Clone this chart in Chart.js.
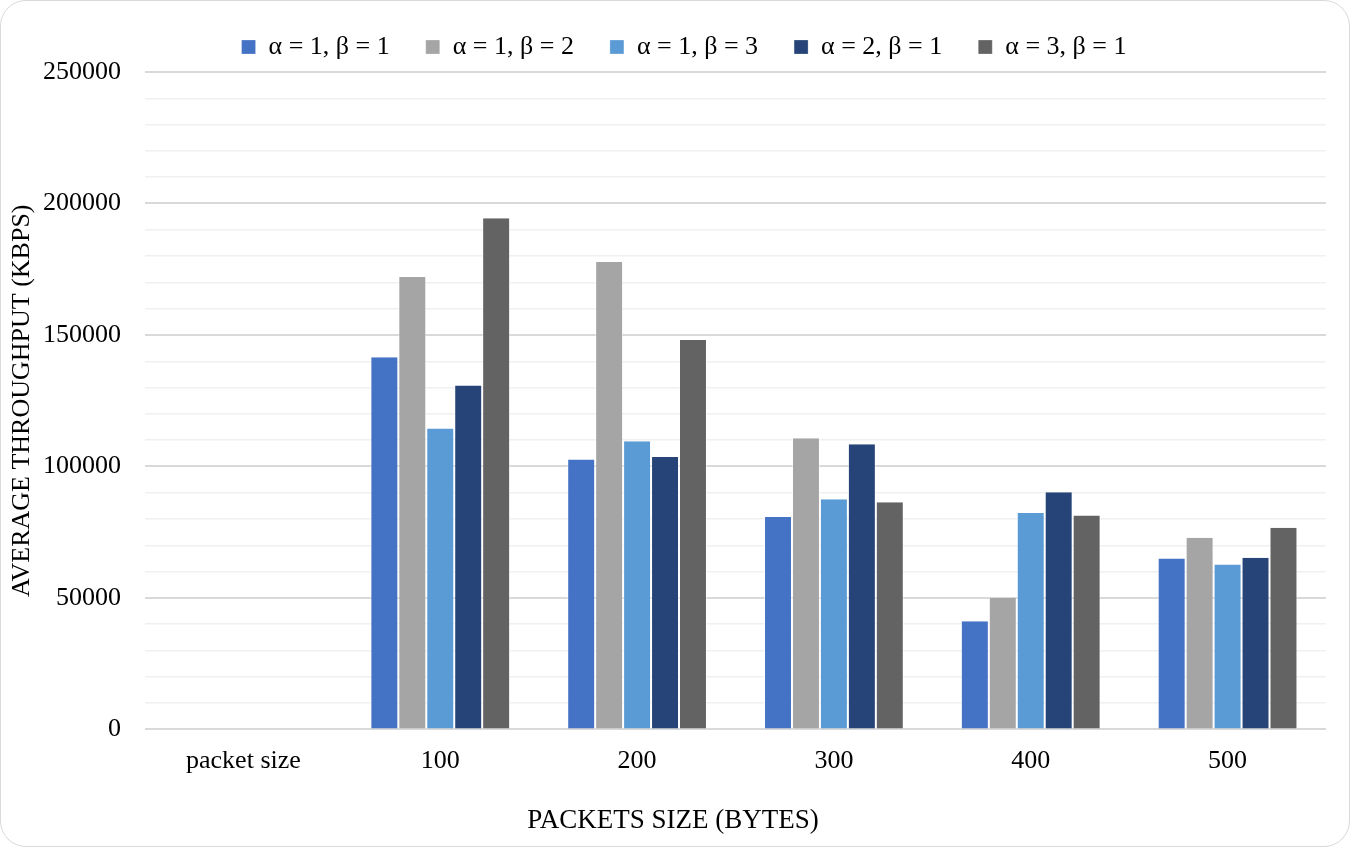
<!DOCTYPE html>
<html>
<head>
<meta charset="utf-8">
<script src="https://cdn.jsdelivr.net/npm/chart.js@4/dist/chart.umd.min.js"></script>
<style>
  html, body { margin: 0; padding: 0; background: #fff; }
  #wrap { position: absolute; left: 0; top: 0; width: 1348px; height: 845px; border: 1px solid #d9d9d9; border-radius: 26px; overflow: hidden; background: #fff; }
  canvas { display: block; }
</style>
</head>
<body>
<div id="wrap"><canvas id="c" width="1348" height="845"></canvas></div>
<script>
const categories = ["packet size", "100", "200", "300", "400", "500"];
const seriesLabels = ["α = 1, β = 1", "α = 1, β = 2", "α = 1, β = 3", "α = 2, β = 1", "α = 3, β = 1"];
const a1b1 = [null, 141500, 102600, 80800, 41100, 65000];
const a1b2 = [null, 172000, 177700, 110700, 50000, 72900];
const a1b3 = [null, 114400, 109600, 87500, 82300, 62700];
const a2b1 = [null, 130800, 103600, 108400, 90200, 65300];
const a3b1 = [null, 194400, 148100, 86400, 81300, 76700];
const colors = ["#4472C4", "#A5A5A5", "#5B9BD5", "#264478", "#636363"];

const seriesValues = [a1b1, a1b2, a1b3, a2b1, a3b1];
const datasets = seriesValues.map((vals, i) => ({
  label: seriesLabels[i],
  data: vals,
  backgroundColor: colors[i],
  borderColor: "rgba(255,255,255,0.5)",
  borderWidth: { left: 1, right: 1, top: 0, bottom: 0 },
  barPercentage: 1.0,
  categoryPercentage: 0.71
}));

const serif = "'Liberation Serif', 'Times New Roman', serif";
Chart.defaults.font.family = serif;
Chart.defaults.color = "#000";

const shiftBoxes = {
  id: "shiftBoxes",
  afterLayout(chart) {
    const l = chart.legend;
    if (l) { l.left += 16; l.right += 16; l.top -= 2; l.bottom -= 2; }
    const t = chart.titleBlock;
    if (t) { t.left += 5; t.right += 5; }
  }
};

new Chart(document.getElementById("c"), {
  type: "bar",
  data: { labels: categories, datasets },
  plugins: [shiftBoxes],
  options: {
    responsive: false,
    animation: false,
    layout: { padding: { left: 9, right: 23, top: -1, bottom: 9 } },
    plugins: {
      legend: {
        position: "top",
        labels: { boxWidth: 14, boxHeight: 14, padding: 36, font: { size: 26, family: serif }, color: "#000" }
      },
      title: {
        display: true,
        position: "bottom",
        text: "PACKETS SIZE (BYTES)",
        font: { size: 27, weight: "normal", family: serif },
        color: "#000",
        padding: { top: 20, bottom: 0 }
      },
      tooltip: { enabled: false }
    },
    scales: {
      x: {
        grid: { display: false },
        border: { display: false },
        ticks: { font: { size: 26 }, color: "#000", padding: 8 }
      },
      y: {
        min: 0, max: 250000,
        afterFit: s => { s.width = 135; },
        ticks: {
          stepSize: 10000,
          autoSkip: false,
          padding: 24,
          font: { size: 26 },
          color: "#000",
          callback: v => (v % 50000 === 0 ? String(v) : "")
        },
        grid: {
          drawTicks: false,
          color: ctx => (ctx.tick && ctx.tick.value % 50000 === 0 ? "#d9d9d9" : "#f0f0f0"),
          lineWidth: ctx => (ctx.tick && ctx.tick.value % 50000 === 0 ? 2 : 1.5)
        },
        border: { display: false },
        title: { display: true, text: "AVERAGE THROUGHPUT (KBPS)", font: { size: 26 }, color: "#000", padding: { top: -3, bottom: 0 } }
      }
    }
  }
});
</script>
</body>
</html>
